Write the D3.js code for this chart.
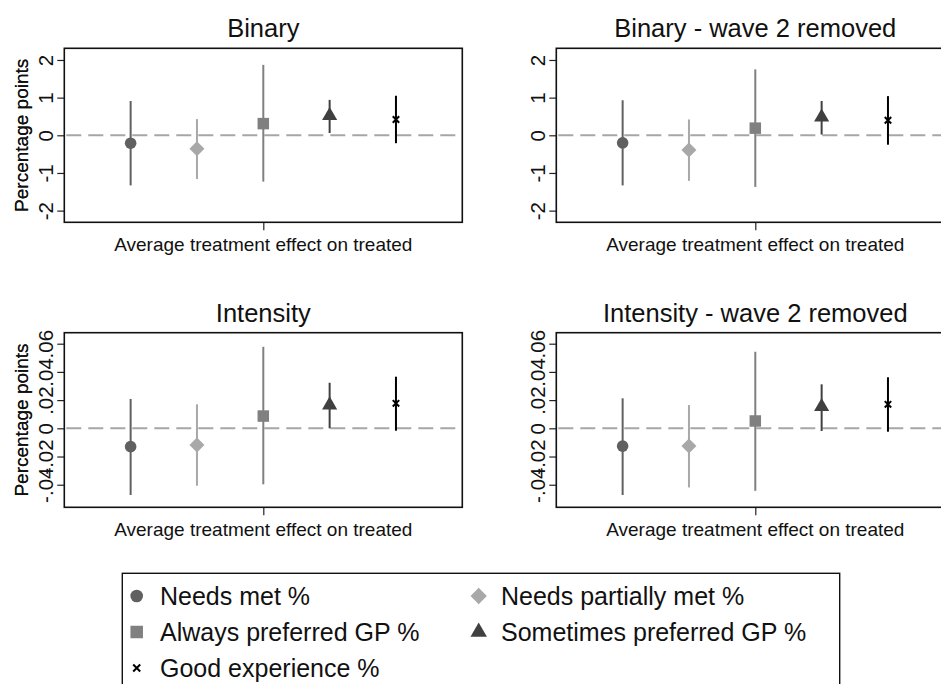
<!DOCTYPE html>
<html>
<head>
<meta charset="utf-8">
<script src="https://cdn.jsdelivr.net/npm/d3@7"></script>
<style>
  body { margin: 0; background: #fff; }
  svg { display: block; font-family: "Liberation Sans", Arial, Helvetica, sans-serif; }
</style>
</head>
<body>
<div id="chart"></div>
<script>
var categories = ['Needs met %', 'Needs partially met %', 'Always preferred GP %', 'Sometimes preferred GP %', 'Good experience %']
var panelTitles = ['Binary', 'Binary - wave 2 removed', 'Intensity', 'Intensity - wave 2 removed']

// point estimates and 95% CI bounds, one value per category
var binaryEst = [-0.21, -0.36, 0.31, 0.52, 0.42]
var binaryLo  = [-1.33, -1.16, -1.23, 0.06, -0.21]
var binaryHi  = [0.91, 0.43, 1.87, 0.94, 1.05]

var binaryW2Est = [-0.20, -0.39, 0.19, 0.48, 0.40]
var binaryW2Lo  = [-1.33, -1.21, -1.37, 0.02, -0.25]
var binaryW2Hi  = [0.93, 0.42, 1.75, 0.91, 1.04]

var intensityEst = [-0.0130, -0.0118, 0.0087, 0.0165, 0.0177]
var intensityLo  = [-0.0473, -0.0407, -0.0397, 0.0000, -0.0017]
var intensityHi  = [0.0208, 0.0170, 0.0578, 0.0323, 0.0366]

var intensityW2Est = [-0.0126, -0.0126, 0.0052, 0.0153, 0.0170]
var intensityW2Lo  = [-0.0473, -0.0419, -0.0443, -0.0019, -0.0024]
var intensityW2Hi  = [0.0213, 0.0165, 0.0543, 0.0312, 0.0362]

var binaryTicks = [-2, -1, 0, 1, 2]
var binaryTickLabels = ['-2', '-1', '0', '1', '2']
var intensityTicks = [-0.04, -0.02, 0, 0.02, 0.04, 0.06]
var intensityTickLabels = ['-.04', '-.02', '0', '.02', '.04', '.06']

var xLabel = 'Average treatment effect on treated'
var yLabel = 'Percentage points'

var colors = ['#606060', '#a8a8a8', '#808080', '#404040', '#000000']
var shapes = ['circle', 'diamond', 'square', 'triangle', 'x']

var panels = [
  {title: panelTitles[0], est: binaryEst, lo: binaryLo, hi: binaryHi, ticks: binaryTicks, labels: binaryTickLabels,
   domain: [-2.31, 2.31], x: 64.3, y: 48.3, h: 174},
  {title: panelTitles[1], est: binaryW2Est, lo: binaryW2Lo, hi: binaryW2Hi, ticks: binaryTicks, labels: binaryTickLabels,
   domain: [-2.31, 2.31], x: 556.3, y: 48.3, h: 174},
  {title: panelTitles[2], est: intensityEst, lo: intensityLo, hi: intensityHi, ticks: intensityTicks, labels: intensityTickLabels,
   domain: [-0.056, 0.0678], x: 64.3, y: 332.7, h: 174.6},
  {title: panelTitles[3], est: intensityW2Est, lo: intensityW2Lo, hi: intensityW2Hi, ticks: intensityTicks, labels: intensityTickLabels,
   domain: [-0.056, 0.0678], x: 556.3, y: 332.7, h: 174.6}
]

var W = 941, H = 684, pw = 398
var font = '"Liberation Sans", Arial, Helvetica, sans-serif'

var svg = d3.select('#chart').append('svg')
  .attr('width', W).attr('height', H)

function marker(sel, shape, size, color){
  if (shape == 'circle') sel.append('path').attr('d', d3.symbol(d3.symbolCircle, size * size * 0.8)).attr('fill', color)
  if (shape == 'square') sel.append('path').attr('d', d3.symbol(d3.symbolSquare, size * size)).attr('fill', color)
  if (shape == 'diamond') sel.append('path').attr('d', d3.symbol(d3.symbolSquare, size * size * 0.85)).attr('transform', 'rotate(45)').attr('fill', color)
  if (shape == 'triangle') sel.append('path').attr('d', d3.symbol(d3.symbolTriangle, size * size * 0.75)).attr('fill', color)
  if (shape == 'x') {
    var s = size * 0.28
    sel.append('path').attr('d', 'M' + -s + ',' + -s + 'L' + s + ',' + s + 'M' + s + ',' + -s + 'L' + -s + ',' + s)
      .attr('stroke', color).attr('stroke-width', 2).attr('fill', 'none')
  }
}

panels.forEach(function(p){
  var g = svg.append('g')
  var x = d3.scaleLinear().domain([0, 6]).range([p.x, p.x + pw])
  var y = d3.scaleLinear().domain(p.domain).range([p.y + p.h, p.y])

  // title
  g.append('text').attr('x', x(3)).attr('y', p.y - 11)
    .attr('text-anchor', 'middle').attr('font-size', 25.5).attr('fill', '#111')
    .text(p.title)

  // y axis
  var yAxis = d3.axisLeft(y).tickValues(p.ticks).tickSize(7).tickPadding(4)
    .tickFormat(function(d, i){ return p.labels[i] })
  var ya = g.append('g').attr('transform', 'translate(' + p.x + ',0)').call(yAxis)
  ya.select('.domain').remove()
  ya.selectAll('.tick line').attr('stroke', '#222').attr('stroke-width', 1.2)
  ya.selectAll('.tick text')
    .style('font-size', '20.5px').style('font-family', font)
    .attr('fill', '#111').attr('text-anchor', 'middle').attr('dy', 0)
    .attr('x', 0).attr('y', 0)
    .attr('transform', 'translate(-11,0) rotate(-90)')

  g.append('text')
    .attr('transform', 'translate(28,' + (p.y + p.h / 2) + ') rotate(-90)')
    .attr('text-anchor', 'middle').attr('font-size', 19).attr('fill', '#111')
    .text(yLabel)

  // x axis
  var xAxis = d3.axisBottom(x).tickValues([3]).tickSize(8).tickFormat('')
  var xa = g.append('g').attr('transform', 'translate(0,' + (p.y + p.h) + ')').call(xAxis)
  xa.select('.domain').remove()
  xa.selectAll('.tick line').attr('stroke', '#222').attr('stroke-width', 1.2)

  g.append('text').attr('x', x(3)).attr('y', p.y + p.h + 29)
    .attr('text-anchor', 'middle').attr('font-size', 19).attr('fill', '#111')
    .text(xLabel)

  // zero reference line
  g.append('line')
    .attr('x1', p.x + 2).attr('x2', p.x + pw).attr('y1', y(0)).attr('y2', y(0))
    .attr('stroke', '#a6a6a6').attr('stroke-width', 2).attr('stroke-dasharray', '15,7')

  // CIs and point estimates
  categories.forEach(function(c, i){
    g.append('line')
      .attr('x1', x(i + 1)).attr('x2', x(i + 1))
      .attr('y1', y(p.lo[i])).attr('y2', y(p.hi[i]))
      .attr('stroke', colors[i]).attr('stroke-width', 2)
    var m = g.append('g').attr('transform', 'translate(' + x(i + 1) + ',' + y(p.est[i]) + ')')
    marker(m, shapes[i], 11.5, colors[i])
  })

  // frame
  g.append('rect').attr('x', p.x).attr('y', p.y).attr('width', pw).attr('height', p.h)
    .attr('fill', 'none').attr('stroke', '#111').attr('stroke-width', 1.6)
})

// legend
var lg = svg.append('g')
lg.append('rect').attr('x', 122.3).attr('y', 573.3).attr('width', 717.4).attr('height', 130)
  .attr('fill', 'none').attr('stroke', '#111').attr('stroke-width', 1.4)

var legendPos = [[136.7, 160, 605], [478.7, 501, 605], [136.7, 160, 641], [478.7, 501, 641], [136.7, 160, 677]]
categories.forEach(function(c, i){
  var pos = legendPos[i]
  var m = lg.append('g').attr('transform', 'translate(' + pos[0] + ',' + (pos[2] - 9) + ')')
  marker(m, shapes[i], 12.5, colors[i])
  lg.append('text').attr('x', pos[1]).attr('y', pos[2])
    .attr('font-size', 25).attr('fill', '#111')
    .text(c)
})
</script>
</body>
</html>
